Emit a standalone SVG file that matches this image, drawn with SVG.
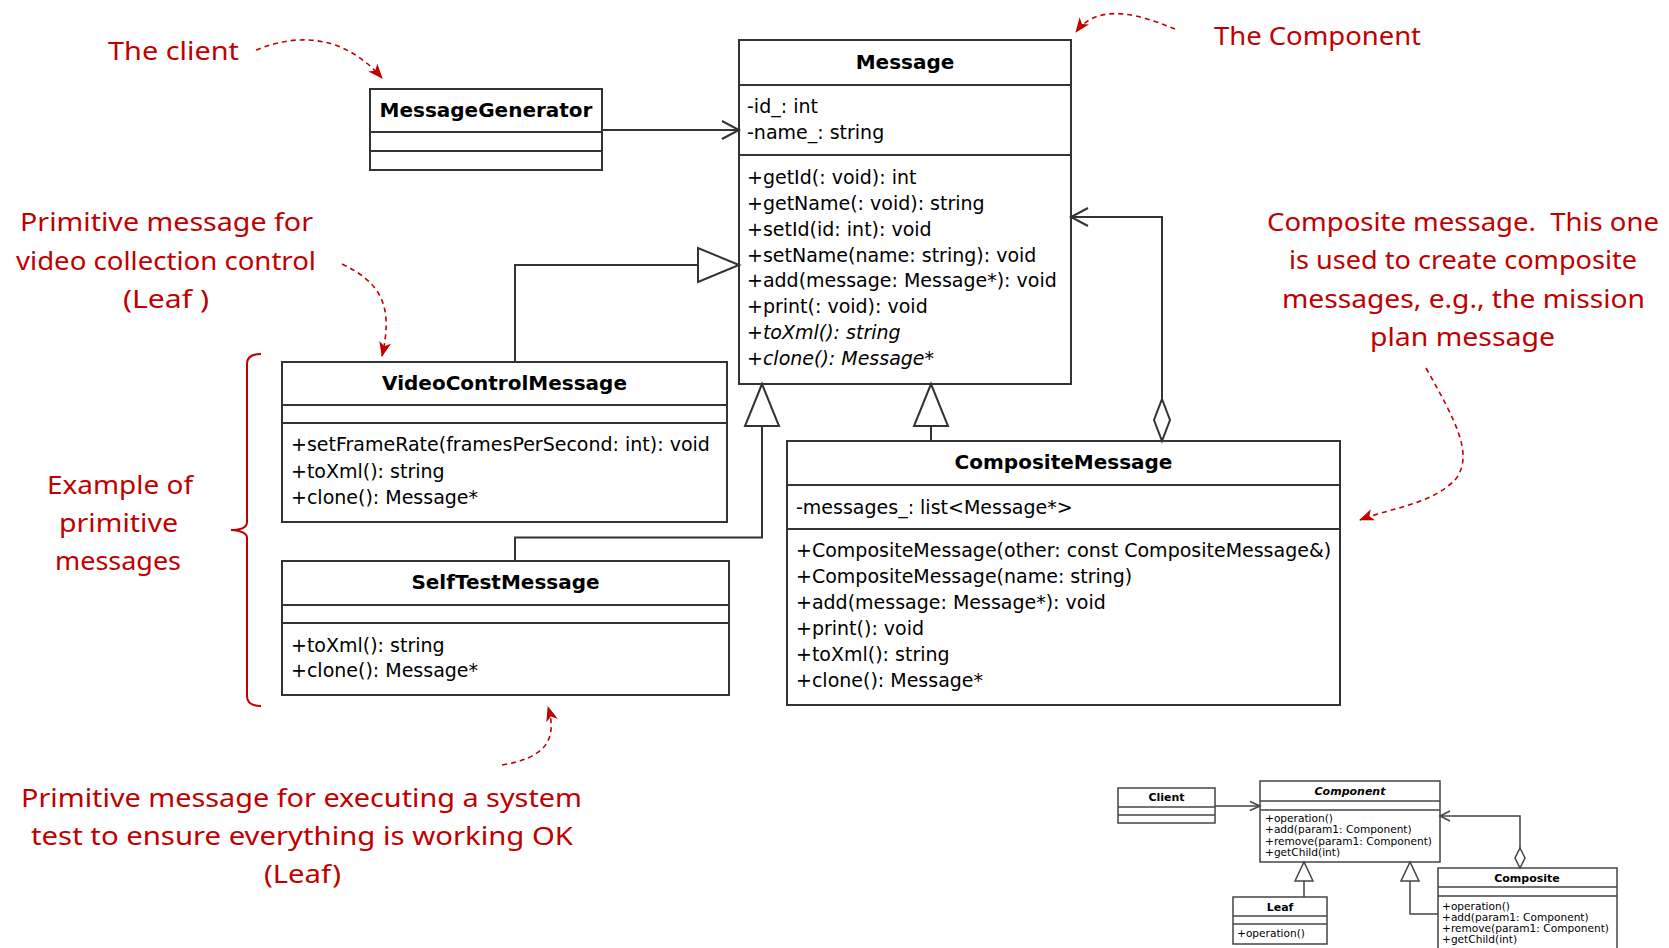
<svg xmlns="http://www.w3.org/2000/svg" width="1669" height="948" viewBox="0 0 1669 948">
  <style>
    .box{fill:#fff;stroke:#333;stroke-width:2}
    .sep{stroke:#333;stroke-width:2}
    .t{font-family:"DejaVu Sans",Verdana,sans-serif;font-size:19px;fill:#000}
    .h{font-weight:bold;font-size:20px;text-anchor:middle}
    .i{font-style:italic}
    .wire{fill:none;stroke:#333;stroke-width:2}
    .tri{fill:#fff;stroke:#333;stroke-width:2}
    .mbox{fill:#fff;stroke:#444;stroke-width:1.5}
    .msep{stroke:#444;stroke-width:1.5}
    .mt{font-family:"DejaVu Sans",Verdana,sans-serif;font-size:10.6px;fill:#000}
    .mh{font-weight:bold;font-size:11px;text-anchor:middle}
    .mwire{fill:none;stroke:#444;stroke-width:1.5}
    .note{font-family:"Noto Sans",sans-serif;font-size:26px;fill:#c00000;white-space:pre}
    .dash{fill:none;stroke:#c00000;stroke-width:1.6;stroke-dasharray:5 4;marker-end:url(#redhead)}
    .brace{fill:none;stroke:#c00000;stroke-width:2}
  </style>
  <defs>
    <marker id="redhead" markerUnits="userSpaceOnUse" markerWidth="15" markerHeight="12" refX="14" refY="6" orient="auto">
      <path d="M0,0 L15,6 L0,12 L4,6 z" fill="#c00000"/>
    </marker>
  </defs>

  <!-- class nodes -->
  <g id="message-generator">
    <rect class="box" x="370" y="89" width="232" height="81"/>
    <line class="sep" x1="370" y1="132" x2="602" y2="132"/>
    <line class="sep" x1="370" y1="151" x2="602" y2="151"/>
    <text class="t h" x="486" y="117">MessageGenerator</text>
  </g>

  <g id="message">
    <rect class="box" x="739" y="40" width="332" height="344"/>
    <line class="sep" x1="739" y1="85" x2="1071" y2="85"/>
    <line class="sep" x1="739" y1="155" x2="1071" y2="155"/>
    <text class="t h" x="905" y="69">Message</text>
    <text class="t" x="747" y="113">-id_: int</text>
    <text class="t" x="747" y="139">-name_: string</text>
    <text class="t" x="747" y="184">+getId(: void): int</text>
    <text class="t" x="747" y="210">+getName(: void): string</text>
    <text class="t" x="747" y="236">+setId(id: int): void</text>
    <text class="t" x="747" y="262">+setName(name: string): void</text>
    <text class="t" x="747" y="287">+add(message: Message*): void</text>
    <text class="t" x="747" y="313">+print(: void): void</text>
    <text class="t i" x="747" y="339">+toXml(): string</text>
    <text class="t i" x="747" y="365">+clone(): Message*</text>
  </g>

  <g id="video-control-message">
    <rect class="box" x="282" y="362" width="445" height="160"/>
    <line class="sep" x1="282" y1="405" x2="727" y2="405"/>
    <line class="sep" x1="282" y1="423" x2="727" y2="423"/>
    <text class="t h" x="504.5" y="390">VideoControlMessage</text>
    <text class="t" x="291" y="451">+setFrameRate(framesPerSecond: int): void</text>
    <text class="t" x="291" y="477.5">+toXml(): string</text>
    <text class="t" x="291" y="503.5">+clone(): Message*</text>
  </g>

  <g id="self-test-message">
    <rect class="box" x="282" y="561" width="447" height="134"/>
    <line class="sep" x1="282" y1="605" x2="729" y2="605"/>
    <line class="sep" x1="282" y1="623" x2="729" y2="623"/>
    <text class="t h" x="505.5" y="589">SelfTestMessage</text>
    <text class="t" x="291" y="652">+toXml(): string</text>
    <text class="t" x="291" y="677">+clone(): Message*</text>
  </g>

  <g id="composite-message">
    <rect class="box" x="787" y="441" width="553" height="264"/>
    <line class="sep" x1="787" y1="485" x2="1340" y2="485"/>
    <line class="sep" x1="787" y1="529" x2="1340" y2="529"/>
    <text class="t h" x="1063.5" y="469">CompositeMessage</text>
    <text class="t" x="796" y="513.5">-messages_: list&lt;Message*&gt;</text>
    <text class="t" x="796" y="557">+CompositeMessage(other: const CompositeMessage&amp;)</text>
    <text class="t" x="796" y="583">+CompositeMessage(name: string)</text>
    <text class="t" x="796" y="609">+add(message: Message*): void</text>
    <text class="t" x="796" y="635">+print(): void</text>
    <text class="t" x="796" y="660.5">+toXml(): string</text>
    <text class="t" x="796" y="687">+clone(): Message*</text>
  </g>

  <!-- reference pattern (small) -->
  <g id="client">
    <rect class="mbox" x="1118" y="788" width="97" height="35"/>
    <line class="msep" x1="1118" y1="807" x2="1215" y2="807"/>
    <line class="msep" x1="1118" y1="815" x2="1215" y2="815"/>
    <text class="mt mh" x="1166.5" y="801">Client</text>
  </g>
  <g id="component">
    <rect class="mbox" x="1260" y="781" width="180" height="81"/>
    <line class="msep" x1="1260" y1="801" x2="1440" y2="801"/>
    <line class="msep" x1="1260" y1="810" x2="1440" y2="810"/>
    <text class="mt mh i" x="1350" y="795">Component</text>
    <text class="mt" x="1265" y="821.5">+operation()</text>
    <text class="mt" x="1265" y="833">+add(param1: Component)</text>
    <text class="mt" x="1265" y="844.5">+remove(param1: Component)</text>
    <text class="mt" x="1265" y="855.5">+getChild(int)</text>
  </g>
  <g id="leaf">
    <rect class="mbox" x="1233" y="897" width="94" height="47"/>
    <line class="msep" x1="1233" y1="916" x2="1327" y2="916"/>
    <line class="msep" x1="1233" y1="924" x2="1327" y2="924"/>
    <text class="mt mh" x="1280" y="911">Leaf</text>
    <text class="mt" x="1237" y="937">+operation()</text>
  </g>
  <g id="composite">
    <rect class="mbox" x="1438" y="868" width="179" height="90"/>
    <line class="msep" x1="1438" y1="887" x2="1617" y2="887"/>
    <line class="msep" x1="1438" y1="896" x2="1617" y2="896"/>
    <text class="mt mh" x="1527" y="882">Composite</text>
    <text class="mt" x="1442" y="909.5">+operation()</text>
    <text class="mt" x="1442" y="920.5">+add(param1: Component)</text>
    <text class="mt" x="1442" y="932">+remove(param1: Component)</text>
    <text class="mt" x="1442" y="943">+getChild(int)</text>
  </g>

  <!-- relationships -->
  <g id="connectors">
    <!-- MessageGenerator uses Message -->
    <path class="wire" d="M602,130 H739"/>
    <path class="wire" d="M722,121 L739,130 L722,139"/>
    <!-- generalisations -->
    <path class="wire" d="M515,362 V265 H698"/>
    <polygon class="tri" points="739,265 698,248 698,282"/>
    <path class="wire" d="M515,561 V537.5 H762 V426"/>
    <polygon class="tri" points="762,384 745,426 779,426"/>
    <path class="wire" d="M931,441 V426"/>
    <polygon class="tri" points="931,384 914,426 948,426"/>
    <!-- aggregation of children -->
    <path class="wire" d="M1162,399 V217 H1071"/>
    <path class="wire" d="M1088,208 L1071,217 L1088,226"/>
    <polygon class="tri" points="1162,399 1170,420 1162,441 1154,420"/>

    <!-- small pattern connectors -->
    <path class="mwire" d="M1215,806 H1260"/>
    <path class="mwire" d="M1250,801.5 L1260,806 L1250,810.5"/>
    <path class="mwire" d="M1520,848 V816 H1440"/>
    <path class="mwire" d="M1450,811 L1440,816 L1450,821"/>
    <polygon class="mbox" points="1520,848 1525,858 1520,868 1515,858"/>
    <path class="mwire" d="M1304,897 V881"/>
    <polygon class="mbox" points="1304,862 1295,881 1313,881"/>
    <path class="mwire" d="M1438,914 H1410 V881"/>
    <polygon class="mbox" points="1410,862 1401,881 1419,881"/>
  </g>

  <!-- handwritten notes -->
  <g id="annotations">
    <text class="note" x="108" y="60" textLength="131" lengthAdjust="spacingAndGlyphs">The client</text>
    <path class="dash" d="M256,50 C300,32 345,36 382,78"/>

    <text class="note" x="1214" y="45" textLength="207" lengthAdjust="spacingAndGlyphs">The Component</text>
    <path class="dash" d="M1175,29 C1145,17 1100,0 1076,32"/>

    <text class="note" x="20" y="231" textLength="293" lengthAdjust="spacingAndGlyphs">Primitive message for</text>
    <text class="note" x="16" y="269.5" textLength="300" lengthAdjust="spacingAndGlyphs">video collection control</text>
    <text class="note" x="123" y="308" textLength="86" lengthAdjust="spacingAndGlyphs">(Leaf )</text>
    <path class="dash" d="M342,264 C380,282 394,305 382,356"/>

    <text class="note" x="1267" y="231" textLength="392" lengthAdjust="spacingAndGlyphs">Composite message.  This one</text>
    <text class="note" x="1289" y="269" textLength="348" lengthAdjust="spacingAndGlyphs">is used to create composite</text>
    <text class="note" x="1282" y="307.5" textLength="363" lengthAdjust="spacingAndGlyphs">messages, e.g., the mission</text>
    <text class="note" x="1370" y="346" textLength="185" lengthAdjust="spacingAndGlyphs">plan message</text>
    <path class="dash" d="M1426,368 C1455,420 1475,455 1455,480 C1430,505 1390,508 1360,520"/>

    <text class="note" x="47" y="494" textLength="146" lengthAdjust="spacingAndGlyphs">Example of</text>
    <text class="note" x="59" y="532" textLength="119" lengthAdjust="spacingAndGlyphs">primitive</text>
    <text class="note" x="55" y="570" textLength="126" lengthAdjust="spacingAndGlyphs">messages</text>
    <path class="brace" d="M261,354 Q247,354 247,364 L247,522 Q247,530 231,530 Q247,531 247,538 L247,696 Q247,706 261,706"/>

    <text class="note" x="21" y="807" textLength="561" lengthAdjust="spacingAndGlyphs">Primitive message for executing a system</text>
    <text class="note" x="31" y="845" textLength="542" lengthAdjust="spacingAndGlyphs">test to ensure everything is working OK</text>
    <text class="note" x="264" y="883" textLength="77" lengthAdjust="spacingAndGlyphs">(Leaf)</text>
    <path class="dash" d="M502,765 C545,758 558,740 548,707"/>
  </g>
</svg>
